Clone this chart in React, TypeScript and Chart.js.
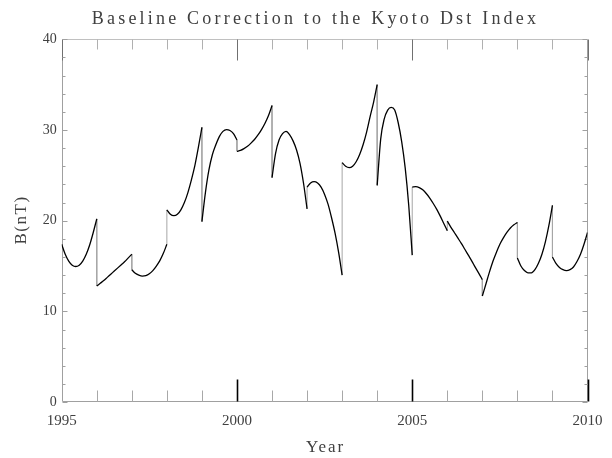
import React, { useEffect, useRef } from 'react';
import { Chart, registerables } from 'chart.js';

Chart.register(...registerables);

const TITLE = 'Baseline Correction to the Kyoto Dst Index';
const X_TITLE = 'Year';
const Y_TITLE = 'B(nT)';

const X_MIN = 1995;
const X_MAX = 2010;
const Y_MIN = 0;
const Y_MAX = 40;
const X_LABEL_STEP = 5;
const Y_LABEL_STEP = 10;
const X_MINOR_STEP = 1;
const Y_MINOR_STEP = 2;

// one segment per year, sampled every 0.1 year (start of year .. end of year)
const SEGMENT_START_YEARS = [1995, 1996, 1997, 1998, 1999, 2000, 2001, 2002, 2003, 2004, 2005, 2006, 2007, 2008, 2009];
const SAMPLE_STEP = 0.1;

const seg1995 = [17.4, 16.3, 15.55, 15.1, 14.95, 15.1, 15.55, 16.3, 17.35, 18.7, 20.2];
const seg1996 = [12.8, 13.1, 13.4, 13.75, 14.1, 14.45, 14.8, 15.15, 15.5, 15.9, 16.3];
const seg1997 = [14.6, 14.2, 14.0, 13.9, 13.95, 14.15, 14.5, 15.0, 15.6, 16.4, 17.4];
const seg1998 = [21.2, 20.7, 20.55, 20.7, 21.2, 22.0, 23.1, 24.5, 26.1, 28.1, 30.3];
const seg1999 = [19.9, 23.1, 25.6, 27.3, 28.4, 29.3, 29.85, 30.05, 29.95, 29.6, 28.9];
const seg2000 = [27.65, 27.75, 27.95, 28.2, 28.55, 28.95, 29.45, 30.05, 30.75, 31.6, 32.7];
const seg2001 = [24.75, 27.4, 28.9, 29.6, 29.85, 29.5, 28.8, 27.8, 26.3, 24.1, 21.3];
const seg2002 = [23.7, 24.15, 24.3, 24.15, 23.7, 22.9, 21.8, 20.3, 18.6, 16.5, 14.0];
const seg2003 = [26.4, 26.0, 25.85, 26.0, 26.5, 27.3, 28.4, 29.8, 31.5, 33.1, 35.0];
const seg2004 = [23.9, 29.0, 31.2, 32.2, 32.5, 32.2, 30.8, 28.7, 25.8, 21.7, 16.2];
const seg2005 = [23.7, 23.75, 23.65, 23.4, 23.0, 22.5, 21.9, 21.25, 20.5, 19.7, 18.9];
const seg2006 = [19.95, 19.3, 18.7, 18.1, 17.5, 16.85, 16.2, 15.55, 14.85, 14.2, 13.5];
const seg2007 = [11.7, 13.0, 14.3, 15.5, 16.5, 17.4, 18.1, 18.7, 19.2, 19.55, 19.8];
const seg2008 = [15.9, 15.0, 14.5, 14.25, 14.25, 14.6, 15.3, 16.3, 17.7, 19.5, 21.7];
const seg2009 = [16.0, 15.3, 14.85, 14.6, 14.5, 14.6, 14.9, 15.5, 16.3, 17.4, 18.7];

const SEGMENTS = [seg1995, seg1996, seg1997, seg1998, seg1999, seg2000, seg2001, seg2002, seg2003, seg2004, seg2005, seg2006, seg2007, seg2008, seg2009];

type Pt = { x: number; y: number | null };

function buildCurve(): Pt[] {
  const pts: Pt[] = [];
  SEGMENTS.forEach((seg, si) => {
    const start = SEGMENT_START_YEARS[si];
    seg.forEach((v, i) => {
      pts.push({ x: +(start + i * SAMPLE_STEP).toFixed(4), y: v });
    });
    pts.push({ x: start + 1, y: null });
  });
  return pts;
}

function buildJumps(): Pt[] {
  const pts: Pt[] = [];
  for (let i = 1; i < SEGMENTS.length; i++) {
    const yr = SEGMENT_START_YEARS[i];
    const prev = SEGMENTS[i - 1];
    pts.push({ x: yr, y: prev[prev.length - 1] });
    pts.push({ x: yr, y: SEGMENTS[i][0] });
    pts.push({ x: yr, y: null });
  }
  return pts;
}

const TEXT_COLOR = '#404040';
const FONT_FAMILY = '"Liberation Serif", "Times New Roman", serif';

const framePlugin = {
  id: 'idlFrame',
  beforeDatasetsDraw(chart: any) {
    const { ctx, chartArea, scales } = chart;
    const xs = scales.x;
    const ys = scales.y;
    const L = Math.round(chartArea.left) + 0.5;
    const R = Math.round(chartArea.right) - 0.5;
    const T = Math.round(chartArea.top) + 0.5;
    const B = Math.round(chartArea.bottom) - 0.5;
    ctx.save();
    ctx.lineWidth = 1;
    // frame
    ctx.strokeStyle = '#a0a0a0';
    ctx.beginPath();
    ctx.moveTo(L, B); ctx.lineTo(R, B);
    ctx.moveTo(L, T); ctx.lineTo(L, B);
    ctx.moveTo(R, T); ctx.lineTo(R, B);
    ctx.stroke();
    ctx.strokeStyle = '#c0c0c0';
    ctx.beginPath();
    ctx.moveTo(L, T); ctx.lineTo(R, T);
    ctx.stroke();
    // x ticks
    for (let v = X_MIN; v <= X_MAX; v += X_MINOR_STEP) {
      const px = Math.round(xs.getPixelForValue(v)) + 0.5;
      const major = (v - X_MIN) % X_LABEL_STEP === 0;
      // bottom (the first major tick coincides with the left axis and stays gray)
      if (v !== X_MIN) {
        ctx.beginPath();
        ctx.strokeStyle = major ? '#000' : '#a8a8a8';
        ctx.lineWidth = major ? 1.6 : 1;
        ctx.moveTo(px, B);
        ctx.lineTo(px, B - (major ? 22 : 11));
        ctx.stroke();
      }
      // top
      ctx.beginPath();
      ctx.strokeStyle = major ? '#707070' : '#b0b0b0';
      ctx.lineWidth = 1;
      ctx.moveTo(px, T);
      ctx.lineTo(px, T + (major ? 21 : 10));
      ctx.stroke();
    }
    // y ticks
    for (let v = Y_MIN; v <= Y_MAX; v += Y_MINOR_STEP) {
      const py = Math.round(ys.getPixelForValue(v)) + 0.5;
      const major = v % Y_LABEL_STEP === 0;
      const len = major ? 5 : 3;
      ctx.beginPath();
      ctx.strokeStyle = '#a0a0a0';
      ctx.lineWidth = 1;
      ctx.moveTo(L, py); ctx.lineTo(L + len, py);
      ctx.moveTo(R, py); ctx.lineTo(R - len, py);
      ctx.stroke();
    }
    ctx.restore();
  },
  afterDraw(chart: any) {
    const { ctx, chartArea } = chart;
    const cx = (chartArea.left + chartArea.right) / 2;
    const cy = (chartArea.top + chartArea.bottom) / 2;
    ctx.save();
    ctx.fillStyle = TEXT_COLOR;
    ctx.textAlign = 'center';
    ctx.textBaseline = 'alphabetic';
    // title
    ctx.font = `18px ${FONT_FAMILY}`;
    (ctx as any).letterSpacing = '3.2px';
    ctx.fillText(TITLE, 315.5, 24);
    // x title
    ctx.font = `17px ${FONT_FAMILY}`;
    (ctx as any).letterSpacing = '2px';
    ctx.fillText(X_TITLE, cx + 1, 452);
    // y title
    ctx.translate(26, cy);
    ctx.rotate(-Math.PI / 2);
    (ctx as any).letterSpacing = '1.5px';
    ctx.fillText(Y_TITLE, 0.75, 0);
    ctx.restore();
  },
};

export default function App() {
  const ref = useRef<HTMLCanvasElement | null>(null);

  useEffect(() => {
    if (!ref.current) return;
    const chart = new Chart(ref.current, {
      type: 'line',
      data: {
        datasets: [
          {
            data: buildCurve() as any,
            borderColor: '#000000',
            borderWidth: 1.3,
            pointRadius: 0,
            cubicInterpolationMode: 'monotone',
            spanGaps: false,
          },
          {
            data: buildJumps() as any,
            borderColor: '#a6a6a6',
            borderWidth: 1,
            pointRadius: 0,
            tension: 0,
            spanGaps: false,
          },
        ],
      },
      options: {
        responsive: false,
        animation: false,
        devicePixelRatio: 1,
        layout: { padding: { left: 0, right: 23.7, top: 39.3, bottom: 0 } },
        plugins: {
          legend: { display: false },
          title: { display: false },
          tooltip: { enabled: false },
        },
        scales: {
          x: {
            type: 'linear',
            min: X_MIN,
            max: X_MAX,
            grid: { display: false, drawTicks: false },
            border: { display: false },
            ticks: {
              stepSize: X_LABEL_STEP,
              autoSkip: false,
              maxRotation: 0,
              padding: 9.5,
              color: TEXT_COLOR,
              font: { family: FONT_FAMILY, size: 15 },
              callback: (v: any) => String(v),
            },
            afterFit: (s: any) => { s.height = 55.9; },
          },
          y: {
            type: 'linear',
            min: Y_MIN,
            max: Y_MAX,
            grid: { display: false, drawTicks: false },
            border: { display: false },
            ticks: {
              stepSize: Y_LABEL_STEP,
              padding: 5,
              color: TEXT_COLOR,
              font: { family: FONT_FAMILY, size: 14 },
              callback: (v: any) => String(v),
            },
            afterFit: (s: any) => { s.width = 61.7; },
          },
        },
      },
      plugins: [framePlugin],
    });
    return () => chart.destroy();
  }, []);

  return (
    <div style={{ position: 'fixed', left: 0, top: 0, width: 612, height: 458, background: '#fff' }}>
      <canvas ref={ref} width={612} height={458} style={{ display: 'block' }} />
    </div>
  );
}
